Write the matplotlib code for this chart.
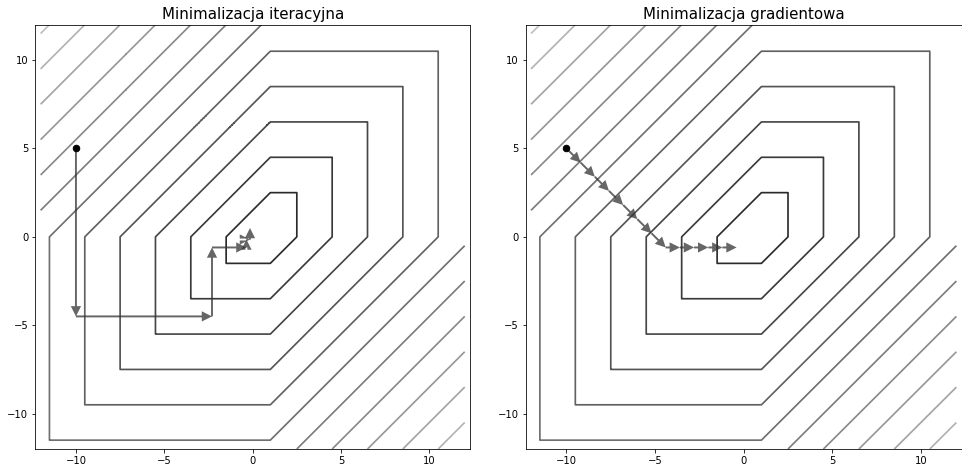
import numpy as np
import matplotlib
matplotlib.use("Agg")
import matplotlib.pyplot as plt

# ---- data ----
titles = ["Minimalizacja iteracyjna", "Minimalizacja gradientowa"]
levels = [4, 8, 12, 16, 20, 24, 28, 32, 36, 40, 44, 48]
start_point = (-10.0, 5.0)

iter_x = [-10.0, -10.0, -2.3, -2.3, -0.35, -0.35, -0.15, -0.15]
iter_y = [5.0, -4.5, -4.5, -0.6, -0.6, -0.15, -0.15, 0.5]

grad_x = [-10.0, -9.2, -8.4, -7.6, -6.8, -6.0, -5.2, -4.4, -3.6, -2.8, -2.0, -1.2, -0.4]
grad_y = [5.0, 4.2, 3.4, 2.6, 1.8, 1.0, 0.2, -0.6, -0.6, -0.6, -0.6, -0.6, -0.6]

xticks = [-10, -5, 0, 5, 10]
yticks = [-10, -5, 0, 5, 10]

# objective whose level sets are the hexagons
def objective(x, y):
    return np.abs(x - 1) + np.abs(y) + np.abs(x - y)

grid = np.linspace(-12, 12, 961)
X, Y = np.meshgrid(grid, grid)
Z = objective(X, Y)

level_colors = [str(0.17 + 0.58 * (L - levels[0]) / (levels[-1] - levels[0])) for L in levels]

DPI = 72
fig = plt.figure(figsize=(962 / DPI, 473 / DPI), dpi=DPI)
axes = [fig.add_axes([35.3 / 962, 24 / 473, 434.7 / 962, 424.3 / 473]),
        fig.add_axes([525.7 / 962, 24 / 473, 436 / 962, 424.3 / 473])]

paths = [(iter_x, iter_y), (grad_x, grad_y)]
arrow_color = "#333333"

for ax, title, (px, py) in zip(axes, titles, paths):
    ax.contour(X, Y, Z, levels=levels, colors=level_colors, linewidths=1.7)
    for i in range(len(px) - 1):
        dx = px[i + 1] - px[i]
        dy = py[i + 1] - py[i]
        ax.arrow(px[i], py[i], dx, dy, width=0.11, head_width=0.58, head_length=0.58,
                 length_includes_head=True, fc=arrow_color, ec="none", alpha=0.75, zorder=3)
    ax.plot([start_point[0]], [start_point[1]], "o", color="black", ms=6.5, zorder=4)
    ax.set_xlim(-12.3, 12.3)
    ax.set_ylim(-12, 12)
    ax.set_xticks(xticks)
    ax.set_yticks(yticks)
    ax.tick_params(labelsize=10)
    ax.set_title(title, fontsize=15, pad=6)

fig.savefig("out.png", dpi=DPI)
